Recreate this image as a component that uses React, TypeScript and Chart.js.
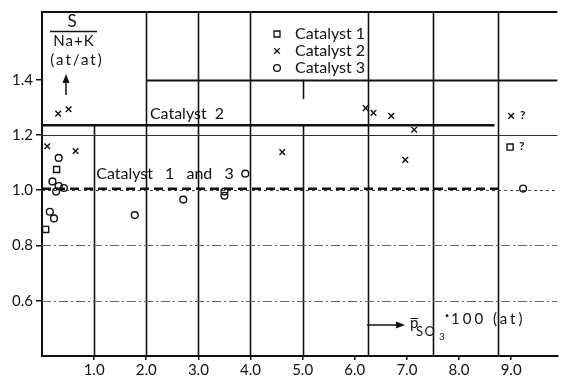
import React, { useEffect, useRef } from 'react';
import { Chart, registerables } from 'chart.js';

Chart.register(...registerables);

const FONT = 'Lato, "DejaVu Sans", sans-serif';
const INK = '#111';

// Axis ticks
const X_TICKS = [1, 2, 3, 4, 5, 6, 7, 8, 9];
const Y_TICKS = [0.6, 0.8, 1.0, 1.2, 1.4];
const X_MIN = 0;
const X_MAX = 9.886;
const Y_MIN = 0.4;
const Y_MAX = 1.645;

// S/(Na+K) atomic ratio against SO3 partial pressure (x100 at)
const catalyst1: [number, number][] = [
  [0.07, 0.858],
  [0.28, 1.075],
];
const catalyst2: [number, number][] = [
  [0.10, 1.159],
  [0.31, 1.277],
  [0.51, 1.293],
  [0.645, 1.142],
  [4.61, 1.138],
  [6.21, 1.297],
  [6.36, 1.28],
  [6.70, 1.269],
  [7.14, 1.219],
  [6.97, 1.11],
];
const catalyst3: [number, number][] = [
  [0.32, 1.117],
  [0.20, 1.032],
  [0.27, 0.995],
  [0.32, 1.015],
  [0.42, 1.008],
  [0.15, 0.922],
  [0.23, 0.898],
  [1.78, 0.91],
  [2.71, 0.966],
  [3.50, 0.995],
  [3.50, 0.98],
  [3.90, 1.06],
  [9.23, 1.006],
];
// Doubtful determinations, marked with "?"
const catalyst1Doubtful: [number, number][] = [[8.98, 1.156]];
const catalyst2Doubtful: [number, number][] = [[9.0, 1.269]];

// Mean levels drawn across the plot
const catalyst2Level = 1.235;
const catalyst2LevelEnd = 8.68;
const catalyst13Level = 1.005;
const catalyst13LevelEnd = 8.75;

const toPts = (arr: [number, number][]) => arr.map(([x, y]) => ({ x, y }));

// Ruled grid of the graph sheet (data coordinates)
const V_RULES = [
  { x: 1, from: Y_MIN, to: 1.235 },
  { x: 2, from: Y_MIN, to: Y_MAX },
  { x: 3, from: Y_MIN, to: Y_MAX },
  { x: 4, from: Y_MIN, to: Y_MAX },
  { x: 5, from: Y_MIN, to: 1.235 },
  { x: 5, from: 1.33, to: 1.4 },
  { x: 6.25, from: Y_MIN, to: Y_MAX },
  { x: 7.5, from: Y_MIN, to: Y_MAX },
  { x: 8.75, from: Y_MIN, to: Y_MAX },
];
const H_RULES = [
  { y: 1.4, from: 2, to: X_MAX, width: 1.8, dash: [] as number[], color: INK },
  { y: 1.2, from: X_MIN, to: X_MAX, width: 1, dash: [] as number[], color: '#333' },
  { y: 1.0, from: X_MIN, to: X_MAX, width: 1, dash: [3, 3], color: '#444' },
  { y: 0.8, from: X_MIN, to: X_MAX, width: 1, dash: [9, 3, 2, 3], color: '#666' },
  { y: 0.6, from: X_MIN, to: X_MAX, width: 1, dash: [9, 3, 2, 3], color: '#666' },
];

const NOTES = [
  { text: 'Catalyst 2', x: 2.07, y: 1.277, wordGap: '4px' },
  { text: 'Catalyst 1 and 3', x: 1.04, y: 1.061, wordGap: '8px' },
];

const LEGEND = [
  { label: 'Catalyst 1', style: 'rect' },
  { label: 'Catalyst 2', style: 'cross' },
  { label: 'Catalyst 3', style: 'circle' },
];

function marker(ctx: CanvasRenderingContext2D, style: string, cx: number, cy: number) {
  ctx.beginPath();
  if (style === 'rect') {
    ctx.rect(cx - 3, cy - 3, 6, 6);
  } else if (style === 'cross') {
    ctx.moveTo(cx - 2.8, cy - 2.8);
    ctx.lineTo(cx + 2.8, cy + 2.8);
    ctx.moveTo(cx + 2.8, cy - 2.8);
    ctx.lineTo(cx - 2.8, cy + 2.8);
  } else {
    ctx.arc(cx, cy, 3.4, 0, Math.PI * 2);
  }
  ctx.stroke();
}

const sheet = {
  id: 'sheet',
  beforeDatasetsDraw(chart: any) {
    const { ctx, chartArea: a, scales } = chart;
    const xs = scales.x;
    const ys = scales.y;
    ctx.save();
    ctx.strokeStyle = INK;
    ctx.lineWidth = 2;
    ctx.beginPath();
    ctx.moveTo(a.left, a.top);
    ctx.lineTo(a.right, a.top);
    ctx.stroke();

    ctx.lineWidth = 1.6;
    for (const r of V_RULES) {
      const px = Math.round(xs.getPixelForValue(r.x)) + 0.5;
      ctx.beginPath();
      ctx.moveTo(px, ys.getPixelForValue(r.from));
      ctx.lineTo(px, ys.getPixelForValue(r.to));
      ctx.stroke();
    }
    for (const r of H_RULES) {
      const py = Math.round(ys.getPixelForValue(r.y)) + 0.5;
      ctx.strokeStyle = r.color;
      ctx.lineWidth = r.width;
      ctx.setLineDash(r.dash);
      ctx.beginPath();
      ctx.moveTo(xs.getPixelForValue(r.from), py);
      ctx.lineTo(xs.getPixelForValue(r.to), py);
      ctx.stroke();
    }
    ctx.restore();
  },
  afterDatasetsDraw(chart: any) {
    const { ctx, scales } = chart;
    const xs = scales.x;
    const ys = scales.y;
    ctx.save();
    ctx.fillStyle = INK;
    ctx.strokeStyle = INK;

    // level labels
    ctx.font = `16px ${FONT}`;
    ctx.textAlign = 'left';
    ctx.textBaseline = 'middle';
    for (const n of NOTES) {
      ctx.wordSpacing = n.wordGap;
      ctx.fillText(n.text, xs.getPixelForValue(n.x), ys.getPixelForValue(n.y));
    }
    ctx.wordSpacing = '0px';

    // question marks beside doubtful points
    ctx.font = `bold 12px ${FONT}`;
    for (const p of [...catalyst1Doubtful, ...catalyst2Doubtful]) {
      ctx.fillText('?', xs.getPixelForValue(p[0]) + 9, ys.getPixelForValue(p[1]) - 1);
    }

    // legend
    ctx.lineWidth = 1.3;
    ctx.font = `16px ${FONT}`;
    LEGEND.forEach((item, i) => {
      const cy = 34 + i * 17;
      marker(ctx, item.style, 277, cy);
      ctx.fillText(item.label, 295, cy);
    });

    // y axis title: S / (Na+K) (at/at) with arrow
    ctx.textAlign = 'center';
    ctx.font = `17px ${FONT}`;
    ctx.fillText('S', 72, 22);
    ctx.lineWidth = 1.5;
    ctx.beginPath();
    ctx.moveTo(50, 31.5);
    ctx.lineTo(97, 31.5);
    ctx.stroke();
    ctx.font = `15px ${FONT}`;
    ctx.letterSpacing = '1px';
    ctx.fillText('Na+K', 74, 41);
    ctx.letterSpacing = '2px';
    ctx.fillText('(at/at)', 77, 60);
    ctx.letterSpacing = '0px';
    ctx.beginPath();
    ctx.moveTo(66, 95);
    ctx.lineTo(66, 80);
    ctx.stroke();
    ctx.beginPath();
    ctx.moveTo(66, 74);
    ctx.lineTo(62.5, 83);
    ctx.lineTo(69.5, 83);
    ctx.closePath();
    ctx.fill();

    // x axis title: arrow, p-bar SO3 . 100 (at)
    ctx.lineWidth = 1.5;
    ctx.beginPath();
    ctx.moveTo(367, 325);
    ctx.lineTo(397, 325);
    ctx.stroke();
    ctx.beginPath();
    ctx.moveTo(405, 325);
    ctx.lineTo(396, 321.5);
    ctx.lineTo(396, 328.5);
    ctx.closePath();
    ctx.fill();
    ctx.textAlign = 'left';
    ctx.textBaseline = 'alphabetic';
    ctx.font = `15px ${FONT}`;
    ctx.fillText('p', 410, 328);
    ctx.lineWidth = 1;
    ctx.beginPath();
    ctx.moveTo(410.5, 318.5);
    ctx.lineTo(418, 318.5);
    ctx.stroke();
    ctx.font = `13px ${FONT}`;
    ctx.letterSpacing = '1.5px';
    ctx.fillText('SO', 416, 336);
    ctx.letterSpacing = '0px';
    ctx.font = `10px ${FONT}`;
    ctx.fillText('3', 439, 340);
    ctx.font = `bold 15px ${FONT}`;
    ctx.fillText('\u00b7', 445, 320);
    ctx.font = `15px ${FONT}`;
    ctx.letterSpacing = '3px';
    ctx.fillText('100 (at)', 451, 324);
    ctx.letterSpacing = '0px';

    ctx.restore();
  },
};

const pointSet = (label: string, arr: [number, number][], style: string, radius: number) => ({
  label,
  data: toPts(arr),
  pointStyle: style,
  pointRadius: radius,
  pointBorderColor: INK,
  pointBackgroundColor: 'rgba(0,0,0,0)',
  pointBorderWidth: 1.4,
  showLine: false,
});

const levelSet = (label: string, level: number, end: number, dash: number[]) => ({
  label,
  data: [
    { x: X_MIN, y: level },
    { x: end, y: level },
  ],
  showLine: true,
  pointRadius: 0,
  borderColor: INK,
  borderWidth: 2.5,
  borderDash: dash,
});

export default function App() {
  const ref = useRef<HTMLCanvasElement | null>(null);

  useEffect(() => {
    document.body.style.margin = '0';
    const canvas = ref.current;
    if (!canvas) return;
    const chart = new Chart(canvas, {
      type: 'scatter',
      data: {
        datasets: [
          levelSet('Catalyst 2 level', catalyst2Level, catalyst2LevelEnd, []),
          levelSet('Catalyst 1 and 3 level', catalyst13Level, catalyst13LevelEnd, [9, 5]),
          pointSet('Catalyst 1', catalyst1, 'rect', 4.3),
          pointSet('Catalyst 2', catalyst2, 'crossRot', 4),
          pointSet('Catalyst 3', catalyst3, 'circle', 3.4),
          pointSet('Catalyst 1 ?', catalyst1Doubtful, 'rect', 4.3),
          pointSet('Catalyst 2 ?', catalyst2Doubtful, 'crossRot', 4),
        ] as any,
      },
      options: {
        responsive: false,
        animation: false,
        layout: { padding: { top: 12, right: 0, left: 0, bottom: 0 } },
        plugins: {
          legend: { display: false },
          tooltip: { enabled: false },
        },
        scales: {
          x: {
            type: 'linear',
            min: X_MIN,
            max: X_MAX,
            afterBuildTicks: (s: any) => {
              s.ticks = X_TICKS.map((v) => ({ value: v }));
            },
            afterFit: (s: any) => {
              s.height = 24;
            },
            ticks: {
              callback: (v: any) => Number(v).toFixed(1),
              color: INK,
              font: { family: FONT, size: 15 },
              padding: 1,
              maxRotation: 0,
              autoSkip: false,
            },
            grid: { drawOnChartArea: false, drawTicks: true, tickLength: 4, color: INK, lineWidth: 1.5 },
            border: { display: true, color: INK, width: 2 },
          },
          y: {
            type: 'linear',
            min: Y_MIN,
            max: Y_MAX,
            afterBuildTicks: (s: any) => {
              s.ticks = Y_TICKS.map((v) => ({ value: v }));
            },
            afterFit: (s: any) => {
              s.width = 42;
            },
            ticks: {
              callback: (v: any) => Number(v).toFixed(1),
              color: INK,
              font: { family: FONT, size: 15 },
              padding: 3,
            },
            grid: { drawOnChartArea: false, drawTicks: true, tickLength: 6, color: INK, lineWidth: 1.5 },
            border: { display: true, color: INK, width: 2 },
          },
        },
      },
      plugins: [sheet],
    } as any);
    return () => chart.destroy();
  }, []);

  return (
    <div style={{ width: 563, height: 380, background: '#fff' }}>
      <canvas ref={ref} width={563} height={380} />
    </div>
  );
}
